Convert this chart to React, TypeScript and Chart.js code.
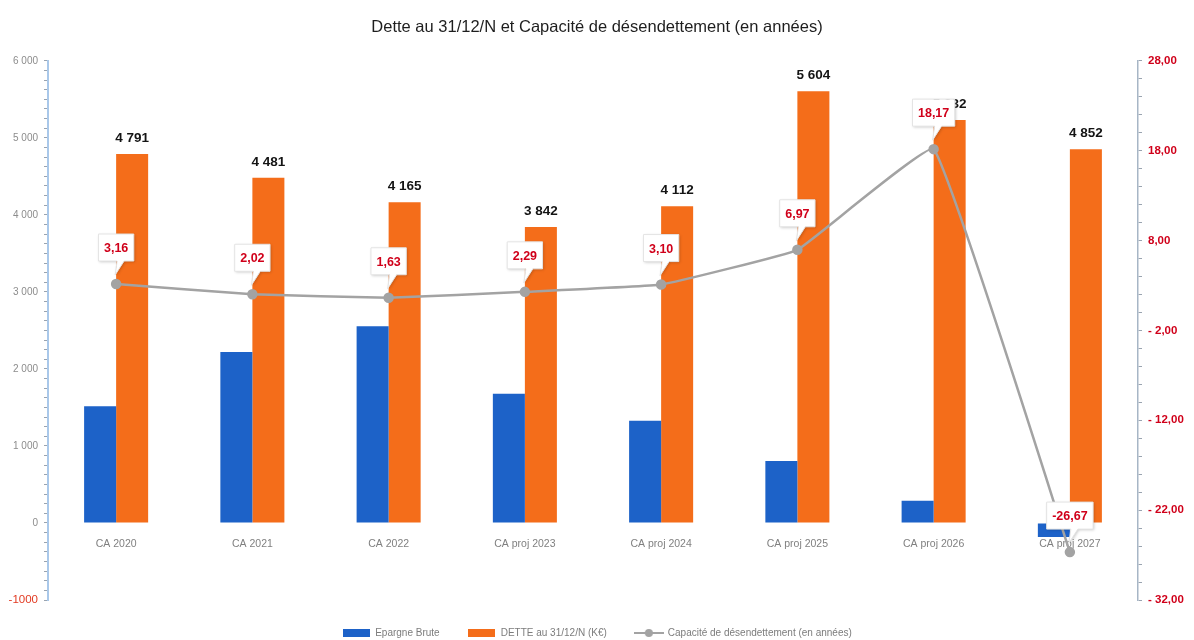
import { useEffect, useRef } from 'react';
import { Chart, registerables } from 'chart.js';

Chart.register(...registerables);

const categories = ['CA 2020', 'CA 2021', 'CA 2022', 'CA proj 2023', 'CA proj 2024', 'CA proj 2025', 'CA proj 2026', 'CA proj 2027'];
const epargneBrute = [1516, 2218, 2555, 1678, 1326, 804, 288, -182];
const dette = [4791, 4481, 4165, 3842, 4112, 5604, 5232, 4852];
const capacite = [3.16, 2.02, 1.63, 2.29, 3.1, 6.97, 18.17, -26.67];

const leftMin = -1000;
const leftMax = 6000;
const leftMajor = 1000;
const leftMinor = 125;
const rightMin = -32;
const rightMax = 28;
const rightMajor = 10;
const rightMinor = 2;

const seriesNames = ['Epargne Brute', 'DETTE au 31/12/N (K€)', 'Capacité de désendettement (en années)'];

const BLUE = '#1d62c8';
const ORANGE = '#f46d1a';
const GREY_LINE = '#a3a3a3';
const RED = '#d0001a';

const fmtThousands = (n: number) => {
  if (n < 0) return String(n);
  return String(Math.round(n)).replace(/\B(?=(\d{3})+(?!\d))/g, ' ');
};
const fmtDec = (n: number) => n.toFixed(2).replace('.', ',');
const fmtRight = (n: number) => (n < 0 ? '- ' + fmtDec(-n) : fmtDec(n));

function makeRectIcon(color: string) {
  const c = document.createElement('canvas');
  c.width = 27;
  c.height = 8;
  const g = c.getContext('2d')!;
  g.fillStyle = color;
  g.fillRect(0, 0, 27, 8);
  return c;
}
function makeLineIcon(color: string) {
  const c = document.createElement('canvas');
  c.width = 30;
  c.height = 10;
  const g = c.getContext('2d')!;
  g.strokeStyle = color;
  g.lineWidth = 2;
  g.beginPath();
  g.moveTo(0, 5);
  g.lineTo(30, 5);
  g.stroke();
  g.fillStyle = color;
  g.beginPath();
  g.arc(15, 5, 4, 0, Math.PI * 2);
  g.fill();
  return c;
}

const SANS = '"Liberation Sans", Arial, sans-serif';

const labelsPlugin = {
  id: 'valueLabels',
  afterDatasetsDraw(chart: any) {
    const ctx = chart.ctx as CanvasRenderingContext2D;
    ctx.save();
    // Dette labels
    const barMeta = chart.getDatasetMeta(1);
    ctx.font = `bold 13.5px ${SANS}`;
    ctx.fillStyle = '#141414';
    ctx.textAlign = 'center';
    ctx.textBaseline = 'middle';
    barMeta.data.forEach((bar: any, i: number) => {
      ctx.fillText(fmtThousands(dette[i]), bar.x, bar.y - 16);
    });
    // Capacité callouts
    const lineMeta = chart.getDatasetMeta(2);
    lineMeta.data.forEach((pt: any, i: number) => {
      const text = fmtDec(capacite[i]);
      ctx.font = `bold 12.5px ${SANS}`;
      const w = ctx.measureText(text).width + 11;
      const cx = pt.x;
      const bottom = pt.y - 23;
      const top = pt.y - 50;
      const x0 = cx - w / 2;
      const x1 = cx + w / 2;
      ctx.save();
      ctx.shadowColor = 'rgba(0,0,0,0.22)';
      ctx.shadowBlur = 3;
      ctx.shadowOffsetX = 1;
      ctx.shadowOffsetY = 1;
      ctx.beginPath();
      ctx.moveTo(x0, top);
      ctx.lineTo(x1, top);
      ctx.lineTo(x1, bottom);
      ctx.lineTo(cx + 8, bottom);
      ctx.lineTo(cx - 1, pt.y - 9);
      ctx.lineTo(cx + 1, bottom);
      ctx.lineTo(x0, bottom);
      ctx.closePath();
      ctx.fillStyle = '#ffffff';
      ctx.fill();
      ctx.restore();
      ctx.strokeStyle = '#e4e4e4';
      ctx.lineWidth = 1;
      ctx.stroke();
      ctx.fillStyle = RED;
      ctx.textAlign = 'center';
      ctx.textBaseline = 'middle';
      ctx.fillText(text, cx, (top + bottom) / 2 + 1);
    });
    ctx.restore();
  },
};

export default function App() {
  const ref = useRef<HTMLCanvasElement | null>(null);

  useEffect(() => {
    document.body.style.margin = '0';
    const icons = [makeRectIcon(BLUE), makeRectIcon(ORANGE), makeLineIcon(GREY_LINE)];
    const chart = new Chart(ref.current!, {
      type: 'bar',
      data: {
        labels: categories,
        datasets: [
          {
            type: 'bar',
            label: seriesNames[0],
            data: epargneBrute,
            backgroundColor: BLUE,
            yAxisID: 'y',
            order: 2,
            barPercentage: 1,
            categoryPercentage: 0.47,
          },
          {
            type: 'bar',
            label: seriesNames[1],
            data: dette,
            backgroundColor: ORANGE,
            yAxisID: 'y',
            order: 2,
            barPercentage: 1,
            categoryPercentage: 0.47,
          },
          {
            type: 'line',
            label: seriesNames[2],
            data: capacite,
            borderColor: GREY_LINE,
            backgroundColor: GREY_LINE,
            borderWidth: 2.5,
            pointRadius: 4,
            pointBackgroundColor: GREY_LINE,
            pointBorderColor: GREY_LINE,
            tension: 0.08,
            yAxisID: 'y1',
            order: 0,
          } as any,
        ],
      },
      options: {
        animation: false,
        responsive: true,
        maintainAspectRatio: false,
        layout: { padding: { left: 0, right: 0, top: 0, bottom: 0 } },
        plugins: {
          title: {
            display: true,
            text: 'Dette au 31/12/N et Capacité de désendettement (en années)',
            color: '#1e1e1e',
            font: { family: SANS, size: 16.5, weight: 'normal' },
            padding: { top: 18, bottom: 23 },
          },
          legend: {
            position: 'bottom',
            maxHeight: 40,
            labels: {
              usePointStyle: true,
              pointStyleWidth: 28,
              padding: 28,
              color: '#7c7c7c',
              font: { family: SANS, size: 10 },
              generateLabels: () =>
                seriesNames.map((name, i) => ({
                  text: name,
                  pointStyle: icons[i],
                  fillStyle: 'transparent',
                  strokeStyle: 'transparent',
                  lineWidth: 0,
                  hidden: false,
                  datasetIndex: i,
                  fontColor: '#7c7c7c',
                })) as any,
            },
          },
          tooltip: { enabled: false },
        },
        scales: {
          x: {
            position: { y: 0 } as any,
            grid: { display: false, drawTicks: false },
            border: { display: false },
            ticks: {
              color: '#808080',
              font: { family: SANS, size: 10.5 },
              padding: 15,
              maxRotation: 0,
              autoSkip: false,
            },
            afterFit: (s: any) => {
              s.height = 0;
            },
          },
          y: {
            position: 'left',
            min: leftMin,
            max: leftMax,
            grid: { display: true, drawOnChartArea: false, tickLength: 4, color: '#9aa4b0', lineWidth: 1 },
            border: { display: true, color: '#a9c8ea', width: 2 },
            ticks: {
              stepSize: leftMinor,
              autoSkip: false,
              padding: 6,
              color: (c: any) => (c.tick && c.tick.value < 0 ? '#e23a22' : '#8c8c8c'),
              font: (c: any) => ({ family: SANS, size: c.tick && c.tick.value < 0 ? 11.5 : 10 }),
              callback: (v: any) => {
                const n = Number(v);
                return Math.abs(n % leftMajor) < 1e-6 ? fmtThousands(n) : '';
              },
            },
            afterFit: (s: any) => {
              s.width = 48;
            },
          },
          y1: {
            position: 'right',
            min: rightMin,
            max: rightMax,
            grid: { display: true, drawOnChartArea: false, tickLength: 4, color: '#9aa4b0', lineWidth: 1 },
            border: { display: true, color: '#a7b6c6', width: 1.5 },
            ticks: {
              stepSize: rightMinor,
              autoSkip: false,
              padding: 6,
              color: RED,
              font: { family: SANS, size: 11.5, weight: 'bold' },
              callback: (v: any) => {
                const n = Number(v);
                return Math.abs((n - rightMax) % rightMajor) < 1e-6 ? fmtRight(n) : '';
              },
            },
            afterFit: (s: any) => {
              s.width = 56;
            },
          },
        },
      },
      plugins: [labelsPlugin],
    });
    return () => chart.destroy();
  }, []);

  return (
    <div style={{ position: 'absolute', left: 0, top: 0, width: 1194, height: 640, background: '#fff' }}>
      <canvas ref={ref} />
    </div>
  );
}
